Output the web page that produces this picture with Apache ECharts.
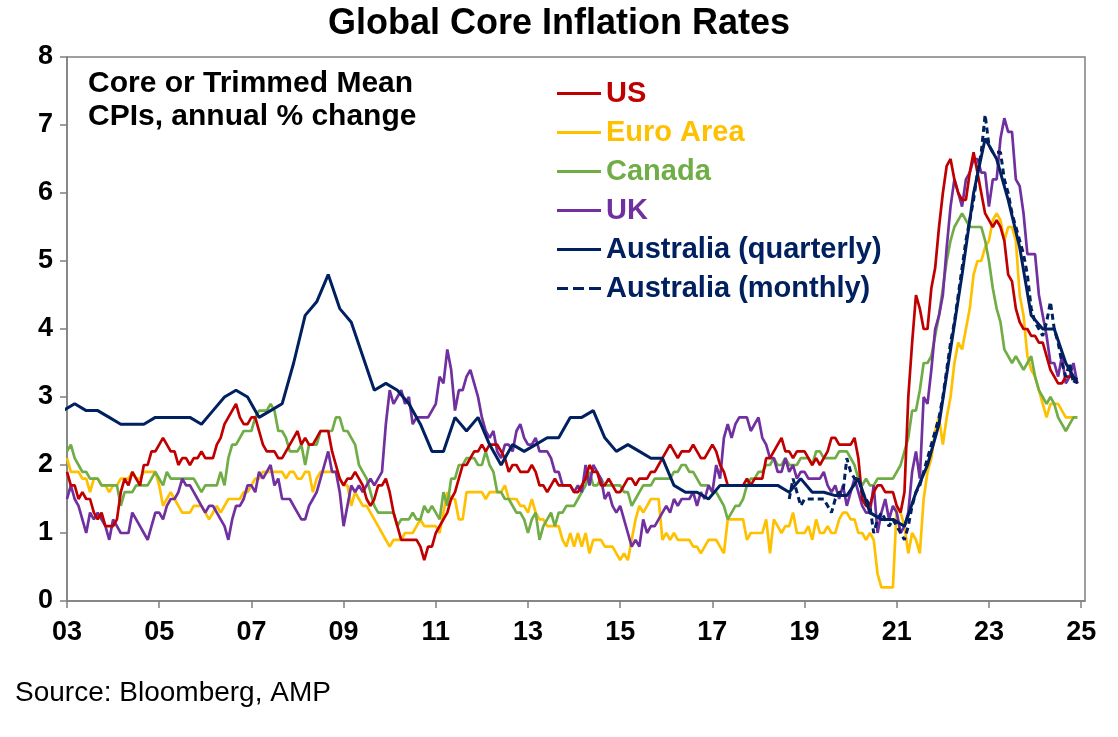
<!DOCTYPE html>
<html lang="en">
<head>
<meta charset="UTF-8" />
<title>Global Core Inflation Rates</title>
<script src="https://cdn.jsdelivr.net/npm/echarts@6/dist/echarts.min.js"></script>
<style>
  html, body { margin: 0; padding: 0; background: #fff; }
  #chart { width: 1118px; height: 737px; }
</style>
</head>
<body>
<div id="chart"></div>
<script>
// monthly series, Jan 2003 .. Dec 2024 (one row per year)
const startYear = 2003;
const tickMonths = [0, 24, 48, 72, 96, 120, 144, 168, 192, 216, 240, 264];

const us = [
  1.9,1.7,1.7,1.5,1.6,1.5,1.5,1.3,1.2,1.3,1.1,1.1,
  1.1,1.2,1.6,1.8,1.7,1.9,1.8,1.7,2.0,2.0,2.2,2.2,
  2.3,2.4,2.3,2.2,2.2,2.0,2.1,2.1,2.0,2.1,2.1,2.2,
  2.1,2.1,2.1,2.3,2.4,2.6,2.7,2.8,2.9,2.7,2.6,2.6,
  2.7,2.7,2.5,2.3,2.2,2.2,2.2,2.1,2.1,2.2,2.3,2.4,
  2.5,2.3,2.4,2.3,2.3,2.4,2.5,2.5,2.5,2.2,2.0,1.8,
  1.7,1.8,1.8,1.9,1.8,1.7,1.5,1.4,1.5,1.7,1.7,1.8,
  1.6,1.3,1.1,0.9,0.9,0.9,0.9,0.9,0.8,0.6,0.8,0.8,
  1.0,1.1,1.2,1.3,1.5,1.6,1.8,2.0,2.0,2.1,2.2,2.2,
  2.3,2.2,2.3,2.3,2.3,2.2,2.1,1.9,2.0,2.0,1.9,1.9,
  1.9,2.0,1.9,1.7,1.7,1.6,1.7,1.8,1.7,1.7,1.7,1.7,
  1.6,1.6,1.7,1.8,2.0,1.9,1.9,1.7,1.7,1.8,1.7,1.6,
  1.6,1.7,1.8,1.8,1.7,1.8,1.8,1.8,1.9,1.9,2.0,2.1,
  2.2,2.3,2.2,2.1,2.2,2.2,2.2,2.3,2.2,2.1,2.1,2.2,
  2.3,2.2,2.0,1.9,1.7,1.7,1.7,1.7,1.7,1.8,1.7,1.8,
  1.8,1.8,2.1,2.1,2.2,2.3,2.4,2.2,2.2,2.1,2.2,2.2,
  2.2,2.1,2.0,2.1,2.0,2.1,2.2,2.4,2.4,2.3,2.3,2.3,
  2.3,2.4,2.1,1.5,1.4,1.4,1.6,1.7,1.7,1.6,1.6,1.6,
  1.4,1.3,1.6,3.0,3.8,4.5,4.3,4.0,4.0,4.6,4.9,5.5,
  6.0,6.4,6.5,6.2,6.0,5.9,5.9,6.3,6.6,6.3,6.0,5.7,
  5.6,5.5,5.6,5.5,5.3,4.8,4.7,4.3,4.1,4.0,4.0,3.9,
  3.9,3.8,3.8,3.6,3.4,3.3,3.2,3.2,3.3,3.3,3.3,3.2
];

const euro = [
  2.1,1.9,1.9,1.9,1.8,1.8,1.6,1.8,1.8,1.7,1.7,1.6,
  1.7,1.7,1.8,1.8,1.8,1.9,1.8,1.8,1.9,1.9,1.9,1.9,
  1.7,1.4,1.5,1.6,1.5,1.4,1.3,1.3,1.3,1.4,1.4,1.4,
  1.3,1.2,1.3,1.4,1.3,1.4,1.5,1.5,1.5,1.5,1.6,1.6,
  1.7,1.8,1.8,1.9,1.9,1.9,1.9,1.9,1.9,1.8,1.9,1.9,
  1.8,1.8,1.9,1.9,1.6,1.8,1.9,1.9,1.9,1.9,1.9,1.8,
  1.7,1.7,1.4,1.6,1.5,1.4,1.4,1.3,1.2,1.1,1.0,0.9,
  0.8,0.9,0.9,0.9,1.0,1.0,1.0,1.1,1.2,1.1,1.1,1.1,
  1.1,1.0,1.3,1.6,1.5,1.5,1.2,1.2,1.6,1.6,1.6,1.6,
  1.6,1.5,1.6,1.6,1.6,1.6,1.7,1.5,1.5,1.5,1.4,1.4,
  1.3,1.5,1.3,1.2,1.2,1.1,1.1,1.1,1.1,0.9,0.8,1.0,
  0.8,1.0,0.8,1.0,0.7,0.9,0.9,0.9,0.8,0.8,0.8,0.7,
  0.6,0.7,0.6,0.9,1.2,1.4,1.3,1.4,1.5,1.5,1.5,0.9,
  1.0,0.9,1.0,0.9,0.9,0.9,0.9,0.8,0.8,0.7,0.8,0.9,
  0.9,0.9,0.8,0.7,1.2,1.2,1.2,1.2,1.2,0.9,1.0,1.0,
  1.0,1.0,1.2,0.7,1.2,1.1,1.0,1.1,1.1,1.3,1.0,1.0,
  1.0,1.1,0.9,1.2,1.0,1.0,1.1,1.0,1.0,1.2,1.3,1.3,
  1.2,1.2,1.0,1.0,0.9,1.0,0.9,0.4,0.2,0.2,0.2,0.2,
  1.4,1.3,1.1,0.7,1.0,0.9,0.7,1.5,1.9,2.1,2.5,2.7,
  2.3,2.7,3.0,3.5,3.8,3.7,4.0,4.3,4.8,5.0,5.0,5.2,
  5.3,5.6,5.7,5.6,5.3,5.5,5.5,5.3,4.5,4.2,3.6,3.4,
  3.3,3.1,2.9,2.7,2.9,2.9,2.9,2.8,2.7,2.7,2.7,2.7
];

const canada = [
  2.2,2.3,2.1,2.0,1.9,1.9,1.8,1.8,1.8,1.7,1.7,1.7,
  1.7,1.7,1.4,1.6,1.6,1.6,1.7,1.7,1.7,1.7,1.8,1.9,
  1.8,1.7,1.9,1.8,1.8,1.8,1.8,1.8,1.8,1.8,1.7,1.6,
  1.7,1.7,1.7,1.7,1.9,1.7,2.1,2.3,2.3,2.4,2.5,2.5,
  2.5,2.7,2.8,2.8,2.8,2.9,2.8,2.5,2.5,2.4,2.2,2.2,
  2.2,2.3,2.0,2.3,2.3,2.3,2.5,2.5,2.5,2.5,2.7,2.7,
  2.5,2.5,2.4,2.3,2.0,1.9,1.8,1.6,1.4,1.3,1.3,1.3,
  1.3,1.3,1.1,1.2,1.2,1.2,1.3,1.2,1.2,1.4,1.3,1.4,
  1.3,1.2,1.6,1.4,1.8,1.8,2.0,2.0,2.1,2.1,2.1,2.0,
  2.0,2.2,2.0,1.9,1.6,1.6,1.5,1.5,1.4,1.3,1.3,1.2,
  1.0,1.2,1.3,0.9,1.1,1.2,1.3,1.1,1.3,1.3,1.4,1.4,
  1.4,1.5,1.6,1.7,1.9,1.7,1.7,1.8,1.7,1.7,1.7,1.7,
  1.7,1.6,1.6,1.4,1.5,1.6,1.7,1.7,1.7,1.8,1.8,1.8,
  1.8,1.8,1.9,1.9,2.0,2.0,1.9,1.9,1.8,1.7,1.7,1.7,
  1.6,1.6,1.5,1.4,1.2,1.3,1.4,1.4,1.5,1.7,1.8,1.8,
  1.9,1.9,2.0,2.0,2.1,2.0,2.0,2.1,2.0,2.0,2.0,2.1,
  2.1,2.1,2.0,2.2,2.2,2.1,2.1,2.1,2.1,2.2,2.2,2.2,
  2.1,2.0,1.8,1.7,1.8,1.7,1.7,1.8,1.8,1.8,1.8,1.8,
  1.9,2.0,2.2,2.4,2.8,2.8,3.1,3.5,3.5,3.6,3.9,4.2,
  4.6,5.0,5.3,5.5,5.6,5.7,5.6,5.5,5.5,5.5,5.5,5.3,
  5.0,4.6,4.3,4.1,3.7,3.6,3.5,3.6,3.5,3.4,3.5,3.6,
  3.3,3.1,3.0,2.9,3.0,2.9,2.7,2.6,2.5,2.6,2.7,2.7
];

const uk = [
  1.5,1.7,1.5,1.4,1.2,1.0,1.3,1.2,1.3,1.2,1.1,0.9,
  1.2,1.1,1.0,1.0,1.0,1.3,1.2,1.1,1.0,0.9,1.1,1.3,
  1.3,1.2,1.4,1.5,1.5,1.6,1.8,1.7,1.7,1.6,1.5,1.4,
  1.3,1.4,1.4,1.3,1.2,1.1,0.9,1.2,1.4,1.4,1.5,1.7,
  1.7,1.6,1.9,1.8,1.9,2.0,1.7,1.8,1.5,1.5,1.5,1.4,
  1.3,1.2,1.2,1.4,1.5,1.6,1.8,2.0,2.2,1.9,1.9,1.6,
  1.1,1.4,1.7,1.6,1.7,1.6,1.7,1.8,1.7,1.8,1.9,2.6,
  3.1,2.9,3.0,3.1,2.9,3.0,2.6,2.7,2.7,2.7,2.7,2.8,
  2.9,3.3,3.2,3.7,3.4,2.8,3.1,3.1,3.3,3.4,3.2,3.0,
  2.7,2.5,2.4,2.5,2.2,2.1,2.3,2.3,2.2,2.5,2.6,2.4,
  2.3,2.3,2.4,2.2,2.2,2.2,2.1,1.9,1.9,1.7,1.7,1.7,
  1.6,1.7,1.6,2.0,1.7,2.0,1.9,1.8,1.5,1.6,1.4,1.3,
  1.4,1.2,1.0,0.8,0.9,0.8,1.2,1.0,1.1,1.1,1.2,1.3,
  1.4,1.3,1.5,1.4,1.5,1.5,1.5,1.6,1.4,1.6,1.5,1.7,
  1.6,2.0,1.8,2.4,2.6,2.4,2.6,2.7,2.7,2.7,2.5,2.6,
  2.7,2.4,2.3,2.1,2.1,1.9,1.9,2.1,1.9,2.0,1.8,1.9,
  1.9,1.8,1.8,1.8,1.8,1.9,1.7,1.6,1.7,1.5,1.7,1.4,
  1.6,1.8,1.6,1.4,1.3,1.3,1.7,1.0,1.3,1.5,1.2,1.4,
  1.3,1.0,1.1,1.3,1.9,2.2,1.8,3.0,2.9,3.4,4.0,4.2,
  4.5,5.2,5.8,6.2,6.0,5.8,6.2,6.3,6.5,6.5,6.3,6.3,
  5.8,6.2,6.2,6.8,7.1,6.9,6.9,6.2,6.1,5.7,5.1,5.1,
  5.1,4.5,4.2,3.9,3.5,3.5,3.3,3.6,3.2,3.3,3.5,3.2
];

// Australia trimmed mean, quarterly from Dec 2002
const ausQuarterlyStart = -1;
const ausQuarterly = [
  2.8,
  2.9,2.8,2.8,2.7,
  2.6,2.6,2.6,2.7,
  2.7,2.7,2.7,2.6,
  2.8,3.0,3.1,3.0,
  2.7,2.8,2.9,3.5,
  4.2,4.4,4.8,4.3,
  4.1,3.6,3.1,3.2,
  3.1,2.9,2.6,2.2,
  2.2,2.7,2.5,2.7,
  2.3,2.0,2.3,2.2,
  2.3,2.4,2.4,2.7,
  2.7,2.8,2.4,2.2,
  2.3,2.2,2.1,2.1,
  1.7,1.6,1.6,1.5,
  1.7,1.7,1.7,1.7,
  1.7,1.7,1.6,1.8,
  1.6,1.6,1.55,1.55,
  1.8,1.3,1.2,1.2,
  1.1,1.6,2.0,2.6,
  3.7,4.8,6.0,6.8,
  6.5,5.9,5.2,4.2,
  4.0,4.0,3.5,3.2
];

// Australia monthly indicator from Sep 2018
const ausMonthlyStart = 188;
const ausMonthly = [
  1.5,1.8,1.6,1.4,
  1.5,1.5,1.5,1.5,1.5,1.5,1.4,1.3,1.5,1.6,1.6,2.1,
  1.9,1.8,1.8,1.6,1.5,1.4,1.0,1.2,1.3,1.2,1.1,1.2,
  1.1,1.0,0.9,1.1,1.4,1.6,1.7,1.9,2.1,2.3,2.5,2.7,
  3.0,3.4,3.8,4.1,4.5,4.9,5.3,5.6,5.9,6.3,6.6,7.15,
  6.7,6.6,6.6,6.6,6.2,6.0,5.7,5.5,5.3,5.1,4.8,4.3,
  4.1,4.0,3.9,4.1,4.4,4.0,3.8,3.5,3.3,3.5,3.2,3.3
];

const colors = {
  us: '#C00000',
  euro: '#FFC000',
  canada: '#70AD47',
  uk: '#7030A0',
  aus: '#002060'
};

const FONT = 'Liberation Sans, Arial, sans-serif';

// legend icons: plain line / three dashes
const solidIcon = 'path://M0,0H44V3H0Z';
const dashIcon = 'path://M0,0H11V3H0Z M16,0H27V3H16Z M32,0H44V3H32Z';

function toPoints(vals, start, step) {
  return vals.map((v, i) => [start + i * step, v]);
}

function line(name, data, color, width, dash, z) {
  return {
    name: name,
    type: 'line',
    data: data,
    symbol: 'none',
    z: z,
    lineStyle: { color: color, width: width, type: dash || 'solid' },
    itemStyle: { color: color }
  };
}

function legendItem(name, color, icon) {
  return { name: name, icon: icon, itemStyle: { color: color }, textStyle: { color: color } };
}

const chart = echarts.init(document.getElementById('chart'));

const axisGrey = '#808080';

chart.setOption({
  animation: false,
  backgroundColor: '#fff',
  title: [
    {
      text: 'Global Core Inflation Rates',
      left: 'center', top: 6, padding: 0,
      textStyle: { fontFamily: FONT, fontSize: 36, fontWeight: 'bold', color: '#000' }
    },
    {
      text: 'Core or Trimmed Mean\nCPIs, annual % change',
      left: 88, top: 67, padding: 0,
      textStyle: { fontFamily: FONT, fontSize: 30, fontWeight: 'bold', color: '#000', lineHeight: 33 }
    },
    {
      text: 'Source: Bloomberg, AMP',
      left: 15, top: 679, padding: 0,
      textStyle: { fontFamily: FONT, fontSize: 28, fontWeight: 'normal', color: '#000' }
    }
  ],
  legend: {
    orient: 'vertical',
    left: 557, top: 79, padding: 0,
    itemGap: 10, itemWidth: 44, itemHeight: 3,
    selectedMode: false,
    textStyle: { fontFamily: FONT, fontSize: 29, fontWeight: 'bold', lineHeight: 28 },
    data: [
      legendItem('US', colors.us, solidIcon),
      legendItem('Euro Area', colors.euro, solidIcon),
      legendItem('Canada', colors.canada, solidIcon),
      legendItem('UK', colors.uk, solidIcon),
      legendItem('Australia (quarterly)', colors.aus, solidIcon),
      legendItem('Australia (monthly)', colors.aus, dashIcon)
    ]
  },
  grid: {
    left: 67, right: 33, top: 57, bottom: 136,
    show: true, borderColor: axisGrey, borderWidth: 1.5
  },
  xAxis: {
    type: 'value',
    min: 0, max: 265,
    axisLine: { show: true, lineStyle: { color: axisGrey, width: 1.5 } },
    axisTick: { show: true, length: 7, customValues: tickMonths, lineStyle: { color: axisGrey, width: 1.5 } },
    axisLabel: {
      customValues: tickMonths,
      margin: 18,
      fontFamily: FONT, fontSize: 27, fontWeight: 'bold', color: '#000',
      formatter: function (v) {
        return String((startYear + Math.round(v / 12)) % 100).padStart(2, '0');
      }
    },
    splitLine: { show: false }
  },
  yAxis: {
    type: 'value',
    min: 0, max: 8, interval: 1,
    axisLine: { show: true, lineStyle: { color: axisGrey, width: 1.5 } },
    axisTick: { show: true, length: 7, lineStyle: { color: axisGrey, width: 1.5 } },
    axisLabel: { margin: 14, fontFamily: FONT, fontSize: 27, fontWeight: 'bold', color: '#000' },
    splitLine: { show: false }
  },
  series: [
    line('Euro Area', toPoints(euro, 0, 1), colors.euro, 2.7, null, 2),
    line('Canada', toPoints(canada, 0, 1), colors.canada, 2.7, null, 3),
    line('UK', toPoints(uk, 0, 1), colors.uk, 2.7, null, 4),
    line('US', toPoints(us, 0, 1), colors.us, 2.7, null, 5),
    line('Australia (monthly)', toPoints(ausMonthly, ausMonthlyStart, 1), colors.aus, 3, [6, 4], 6),
    line('Australia (quarterly)', toPoints(ausQuarterly, ausQuarterlyStart, 3), colors.aus, 3, null, 7)
  ]
});
</script>
</body>
</html>
